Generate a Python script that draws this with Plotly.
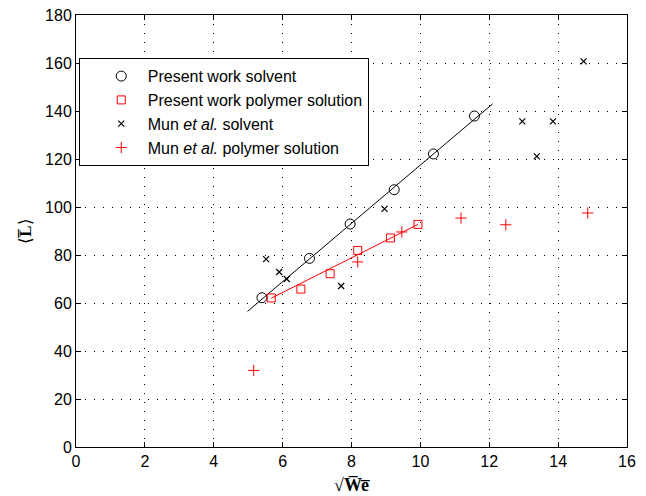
import plotly.graph_objects as go

# Present work solvent
pw_solv_x = [5.40, 6.78, 7.96, 9.24, 10.38, 11.57]
pw_solv_y = [62.2, 78.6, 92.9, 107.2, 122.1, 137.9]
# Present work polymer solution
pw_poly_x = [5.67, 6.53, 7.38, 8.18, 9.13, 9.93]
pw_poly_y = [62.1, 65.8, 72.2, 81.9, 87.1, 92.75]
# Mun et al. solvent
mun_solv_x = [5.52, 5.90, 6.12, 7.70, 8.96, 12.96, 13.38, 13.85, 14.74]
mun_solv_y = [78.3, 72.9, 70.0, 67.1, 99.2, 135.7, 121.1, 135.7, 160.7]
# Mun et al. polymer solution
mun_poly_x = [5.16, 8.18, 9.46, 11.18, 12.48, 14.86]
mun_poly_y = [31.9, 77.1, 89.6, 95.4, 92.6, 97.5]
# Fit lines (endpoints)
fit_solv_x = [4.98, 12.10]
fit_solv_y = [56.5, 143.0]
fit_poly_x = [5.67, 9.93]
fit_poly_y = [62.0, 92.75]

x_ticks = [0, 2, 4, 6, 8, 10, 12, 14, 16]
y_ticks = [0, 20, 40, 60, 80, 100, 120, 140, 160, 180]

fig = go.Figure()
fig.add_trace(go.Scatter(x=fit_solv_x, y=fit_solv_y, mode="lines",
                         line=dict(color="black", width=1), showlegend=False))
fig.add_trace(go.Scatter(x=fit_poly_x, y=fit_poly_y, mode="lines",
                         line=dict(color="red", width=1), showlegend=False))
fig.add_trace(go.Scatter(x=pw_solv_x, y=pw_solv_y, mode="markers", name="Present work solvent",
                         marker=dict(symbol="circle-open", size=10, color="black", line=dict(width=1))))
fig.add_trace(go.Scatter(x=pw_poly_x, y=pw_poly_y, mode="markers", name="Present work polymer solution",
                         marker=dict(symbol="square-open", size=8, color="red", line=dict(width=1))))
fig.add_trace(go.Scatter(x=mun_solv_x, y=mun_solv_y, mode="markers", name="Mun <i>et al.</i> solvent",
                         marker=dict(symbol="x-thin-open", size=6, color="black", line=dict(width=1.2, color="black"))))
fig.add_trace(go.Scatter(x=mun_poly_x, y=mun_poly_y, mode="markers", name="Mun <i>et al.</i> polymer solution",
                         marker=dict(symbol="cross-thin-open", size=8, color="red", line=dict(width=1, color="red"))))

axis_common = dict(
    showline=True, linecolor="black", linewidth=1, mirror="allticks",
    ticks="inside", ticklen=5, tickcolor="black", automargin=False,
    showgrid=True, gridcolor="black", gridwidth=1, griddash="1px,8px",
    zeroline=False, tickfont=dict(family="Liberation Sans, Arial", size=16, color="black"),
)

fig.update_xaxes(range=[0, 16], tickvals=x_ticks, **axis_common,
                 title=dict(text="√<b>W̅e̅</b>", font=dict(family="Liberation Serif, Times New Roman", size=18, color="black"), standoff=9))
fig.update_yaxes(range=[0, 180], tickvals=y_ticks, **axis_common,
                 title=dict(text="⟨<b>L̅</b>⟩", font=dict(family="Liberation Serif, Times New Roman", size=17, color="black"), standoff=9))

fig.update_layout(
    width=646, height=496,
    margin=dict(l=76, r=19, t=15, b=49),
    plot_bgcolor="white", paper_bgcolor="white",
    legend=dict(x=0.005, y=0.900, xanchor="left", yanchor="top",
                bgcolor="white", bordercolor="black", borderwidth=1,
                font=dict(family="Liberation Sans, Arial", size=16, color="black"),
                indentation=15, itemwidth=43),
    showlegend=True,
)

fig.write_html("out.html", config={"displayModeBar": False},
               post_script="document.body.style.margin='0px';")
